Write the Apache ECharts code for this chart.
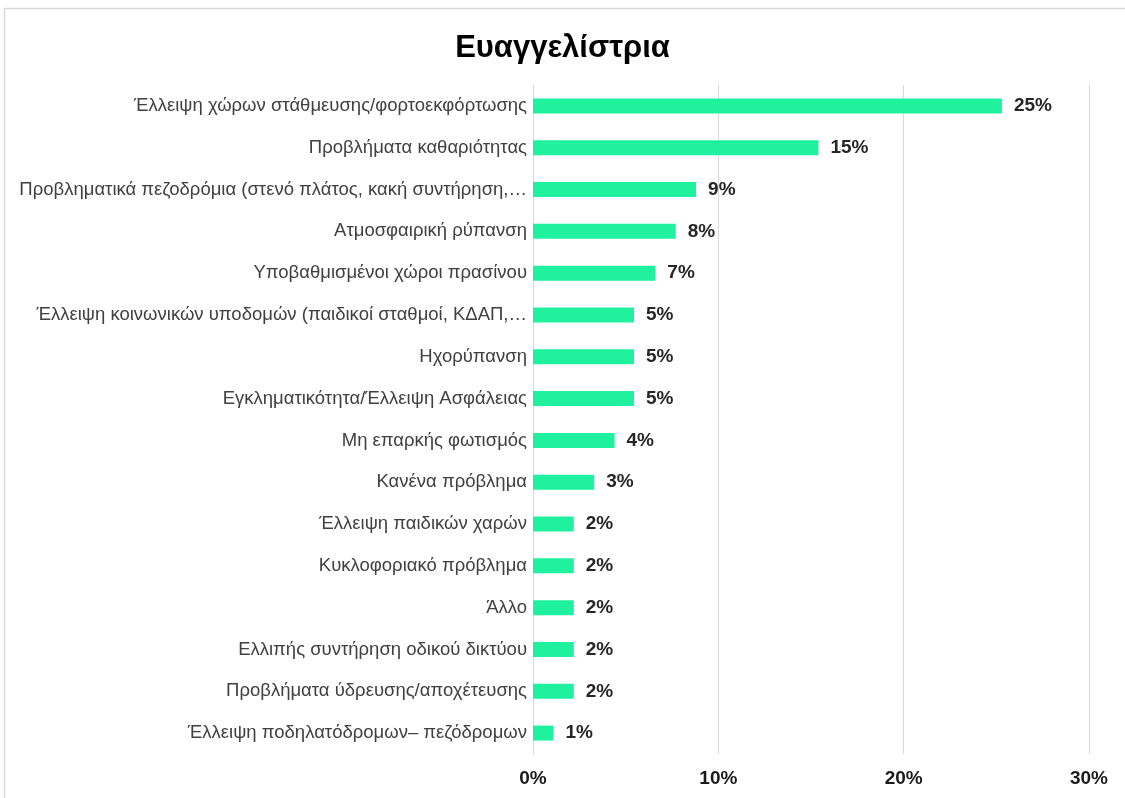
<!DOCTYPE html>
<html>
<head>
<meta charset="utf-8">
<script src="https://cdn.jsdelivr.net/npm/echarts@6/dist/echarts.min.js"></script>
<style>
  html, body { margin: 0; padding: 0; background: #fff; }
  #chart { width: 1125px; height: 798px; }
</style>
</head>
<body>
<div id="chart"></div>
<script>
// categories as shown (Excel truncated the two long ones)
var categories = [
    'Έλλειψη χώρων στάθμευσης/φορτοεκφόρτωσης',
    'Προβλήματα καθαριότητας',
    'Προβληματικά πεζοδρόμια (στενό πλάτος, κακή συντήρηση,…',
    'Ατμοσφαιρική ρύπανση',
    'Υποβαθμισμένοι χώροι πρασίνου',
    'Έλλειψη κοινωνικών υποδομών (παιδικοί σταθμοί, ΚΔΑΠ,…',
    'Ηχορύπανση',
    'Εγκληματικότητα/Έλλειψη Ασφάλειας',
    'Μη επαρκής φωτισμός',
    'Κανένα πρόβλημα',
    'Έλλειψη παιδικών χαρών',
    'Κυκλοφοριακό πρόβλημα',
    'Άλλο',
    'Ελλιπής συντήρηση οδικού δικτύου',
    'Προβλήματα ύδρευσης/αποχέτευσης',
    'Έλλειψη ποδηλατόδρομων– πεζόδρομων'
];
// percentages
var values = [25.3, 15.4, 8.8, 7.7, 6.6, 5.45, 5.45, 5.45, 4.4, 3.3, 2.2, 2.2, 2.2, 2.2, 2.2, 1.1];
var xTicks = { min: 0, max: 30, step: 10 };

var font = '"Liberation Sans", Arial, sans-serif';
var chart = echarts.init(document.getElementById('chart'));

chart.setOption({
    animation: false,
    backgroundColor: '#fff',
    graphic: [{
        type: 'rect',
        shape: { x: 4.5, y: 8.5, width: 1140, height: 800 },
        style: { fill: 'none', stroke: '#d9d9d9', lineWidth: 1.5 },
        silent: true
    }],
    title: {
        text: 'Ευαγγελίστρια',
        left: 'center',
        top: 28,
        textStyle: { fontFamily: font, fontSize: 31, fontWeight: 'bold', color: '#000' }
    },
    grid: { left: 533, right: 36, top: 85, bottom: 44, containLabel: false },
    xAxis: {
        type: 'value',
        min: xTicks.min,
        max: xTicks.max,
        interval: xTicks.step,
        axisLine: { show: false },
        axisTick: { show: false },
        splitLine: { lineStyle: { color: '#d9d9d9', width: 1 } },
        axisLabel: {
            formatter: '{value}%',
            margin: 15,
            fontFamily: font,
            fontSize: 19,
            fontWeight: 'bold',
            color: '#1a1a1a'
        }
    },
    yAxis: {
        type: 'category',
        data: categories,
        inverse: true,
        axisLine: { lineStyle: { color: '#d9d9d9', width: 1 } },
        axisTick: { show: false },
        axisLabel: {
            margin: 6,
            fontFamily: font,
            fontSize: 18.5,
            color: '#404040'
        }
    },
    series: [{
        type: 'bar',
        data: values,
        barWidth: 15,
        itemStyle: { color: '#1ff19f' },
        label: {
            show: true,
            position: 'right',
            distance: 12,
            fontFamily: font,
            fontSize: 19,
            fontWeight: 'bold',
            color: '#262626',
            formatter: function (p) { return Math.round(p.value) + '%'; }
        }
    }]
});
</script>
</body>
</html>
